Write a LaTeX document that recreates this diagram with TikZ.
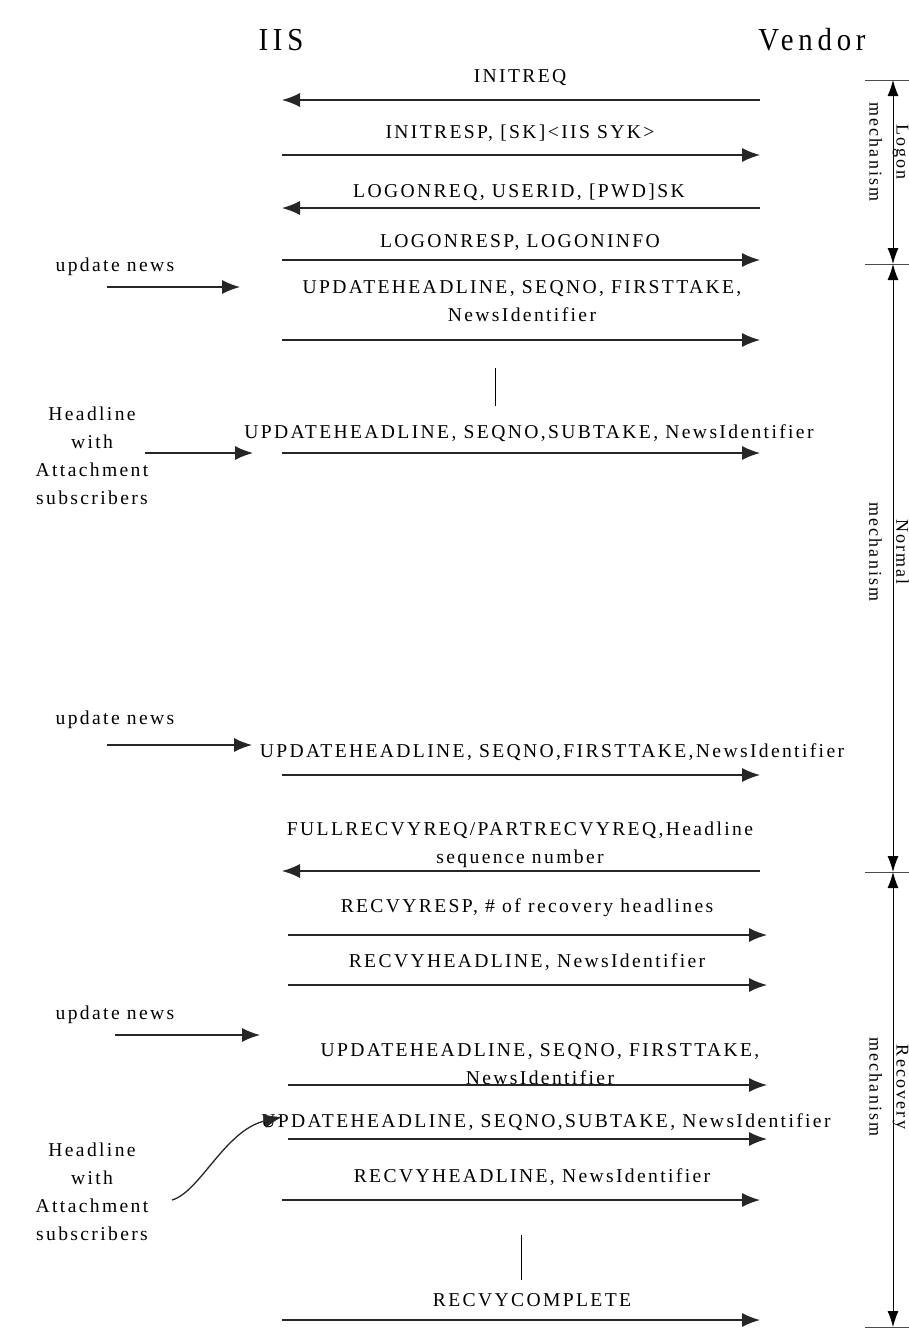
\documentclass[tikz,border=0pt]{standalone}
\usepackage{fontspec}
\setmainfont{Liberation Serif}
\newfontfamily\lsfont{Liberation Serif}[LetterSpace=12]
\newfontfamily\ttfont{Liberation Serif}[LetterSpace=15,FakeStretch=0.9]
\usetikzlibrary{arrows.meta}
\tikzset{
  lbl/.style={font=\lsfont\fontsize{19.6}{28}\selectfont, align=center, inner sep=0pt},
  ttl/.style={font=\ttfont\fontsize{32}{36}\selectfont, inner sep=0pt},
  msg/.style={draw=black!85, line width=1.3pt, -{Latex[length=18pt,width=14pt]}},
  side/.style={line width=0.9pt, {Latex[length=16pt,width=11pt]}-{Latex[length=16pt,width=11pt]}},
  tick/.style={draw=black!70, line width=0.9pt},
  bar/.style={draw, line width=1pt},
  mech/.style={font=\lsfont\fontsize{18}{27}\selectfont, align=center, rotate=-90, inner sep=0pt}
}
\begin{document}
\begin{tikzpicture}[x=1pt,y=-1pt]
\path[use as bounding box] (0,0) rectangle (909,1330);
% titles
\node[ttl] (iis) at (281,40) {IIS};
\node[ttl] (vendor) at (812,40) {Vendor};

% lifeline end coordinates
\coordinate (L1) at (282,100); \coordinate (R1) at (760,100);
\coordinate (L2) at (282,155); \coordinate (R2) at (760,155);
\coordinate (L3) at (282,208); \coordinate (R3) at (760,208);
\coordinate (L4) at (282,260); \coordinate (R4) at (760,260);
\coordinate (L5) at (282,340); \coordinate (R5) at (760,340);
\coordinate (L6) at (282,453); \coordinate (R6) at (760,453);
\coordinate (L7) at (282,775); \coordinate (R7) at (760,775);
\coordinate (L8) at (282,871); \coordinate (R8) at (760,871);
\coordinate (L9) at (288,935); \coordinate (R9) at (767,935);
\coordinate (L10) at (288,985); \coordinate (R10) at (767,985);
\coordinate (L11) at (288,1085); \coordinate (R11) at (767,1085);
\coordinate (L12) at (288,1139); \coordinate (R12) at (767,1139);
\coordinate (L13) at (282,1200); \coordinate (R13) at (760,1200);
\coordinate (L14) at (282,1320); \coordinate (R14) at (760,1320);

% messages
\node[lbl] (m1) at (520,78) {INITREQ};
\draw[msg] (R1) -- (L1);
\node[lbl] (m2) at (520,133) {INITRESP, [SK]<IIS SYK>};
\draw[msg] (L2) -- (R2);
\node[lbl] (m3) at (519,192) {LOGONREQ, USERID, [PWD]SK};
\draw[msg] (R3) -- (L3);
\node[lbl] (m4) at (520,243) {LOGONRESP, LOGONINFO};
\draw[msg] (L4) -- (R4);
\node[lbl] (m5) at (522,301) {UPDATEHEADLINE, SEQNO, FIRSTTAKE,\\NewsIdentifier};
\draw[msg] (L5) -- (R5);
\coordinate (v1a) at (495,368); \coordinate (v1b) at (495,406);
\draw[bar] (v1a) -- (v1b);
\node[lbl] (m6) at (529,433) {UPDATEHEADLINE, SEQNO,SUBTAKE, NewsIdentifier};
\draw[msg] (L6) -- (R6);
\node[lbl] (m7) at (552,752) {UPDATEHEADLINE, SEQNO,FIRSTTAKE,NewsIdentifier};
\draw[msg] (L7) -- (R7);
\node[lbl] (m8) at (520,845) {FULLRECVYREQ/PARTRECVYREQ,Headline\\sequence number};
\draw[msg] (R8) -- (L8);
\node[lbl] (m9) at (527,908) {RECVYRESP, \# of recovery headlines};
\draw[msg] (L9) -- (R9);
\node[lbl] (m10) at (527,962) {RECVYHEADLINE, NewsIdentifier};
\draw[msg] (L10) -- (R10);
\node[lbl] (m11) at (540,1064) {UPDATEHEADLINE, SEQNO, FIRSTTAKE,\\NewsIdentifier};
\draw[msg] (L11) -- (R11);
\node[lbl] (m12) at (546,1122) {UPDATEHEADLINE, SEQNO,SUBTAKE, NewsIdentifier};
\draw[msg] (L12) -- (R12);
\node[lbl] (m13) at (532,1177) {RECVYHEADLINE, NewsIdentifier};
\draw[msg] (L13) -- (R13);
\coordinate (v2a) at (521,1235); \coordinate (v2b) at (521,1280);
\draw[bar] (v2a) -- (v2b);
\node[lbl] (m14) at (532,1300) {RECVYCOMPLETE};
\draw[msg] (L14) -- (R14);

% left side triggers
\node[lbl] (u1) at (115,267) {update news};
\coordinate (u1a) at (107,287); \coordinate (u1b) at (240,287);
\draw[msg] (u1a) -- (u1b);
\node[lbl] (h1) at (92,456) {Headline\\with\\Attachment\\subscribers};
\coordinate (h1a) at (145,453); \coordinate (h1b) at (253,453);
\draw[msg] (h1a) -- (h1b);
\node[lbl] (u2) at (115,720) {update news};
\coordinate (u2a) at (107,745); \coordinate (u2b) at (252,745);
\draw[msg] (u2a) -- (u2b);
\node[lbl] (u3) at (115,1015) {update news};
\coordinate (u3a) at (115,1035); \coordinate (u3b) at (260,1035);
\draw[msg] (u3a) -- (u3b);
\node[lbl] (h2) at (92,1192) {Headline\\with\\Attachment\\subscribers};
\coordinate (h2a) at (172,1200); \coordinate (h2b) at (282,1117);
\draw[msg] (h2a) .. controls (200,1192) and (225,1130) .. (h2b);

% right side phase bracket
\coordinate (t1a) at (865,80); \coordinate (t1b) at (909,80);
\coordinate (t2a) at (865,264); \coordinate (t2b) at (909,264);
\coordinate (t3a) at (865,872); \coordinate (t3b) at (909,872);
\coordinate (t4a) at (865,1327); \coordinate (t4b) at (909,1327);
\draw[tick] (t1a) -- (t1b);
\draw[tick] (t2a) -- (t2b);
\draw[tick] (t3a) -- (t3b);
\draw[tick] (t4a) -- (t4b);
\coordinate (b1) at (893,80); \coordinate (b2) at (893,264);
\coordinate (b3) at (893,872); \coordinate (b4) at (893,1327);
\draw[side] (b1) -- (b2);
\draw[side] (b2) -- (b3);
\draw[side] (b3) -- (b4);
\node[mech] (p1) at (889,152) {Logon\\mechanism};
\node[mech] (p2) at (889,552) {Normal\\mechanism};
\node[mech] (p3) at (889,1087) {Recovery\\mechanism};
\end{tikzpicture}
\end{document}
